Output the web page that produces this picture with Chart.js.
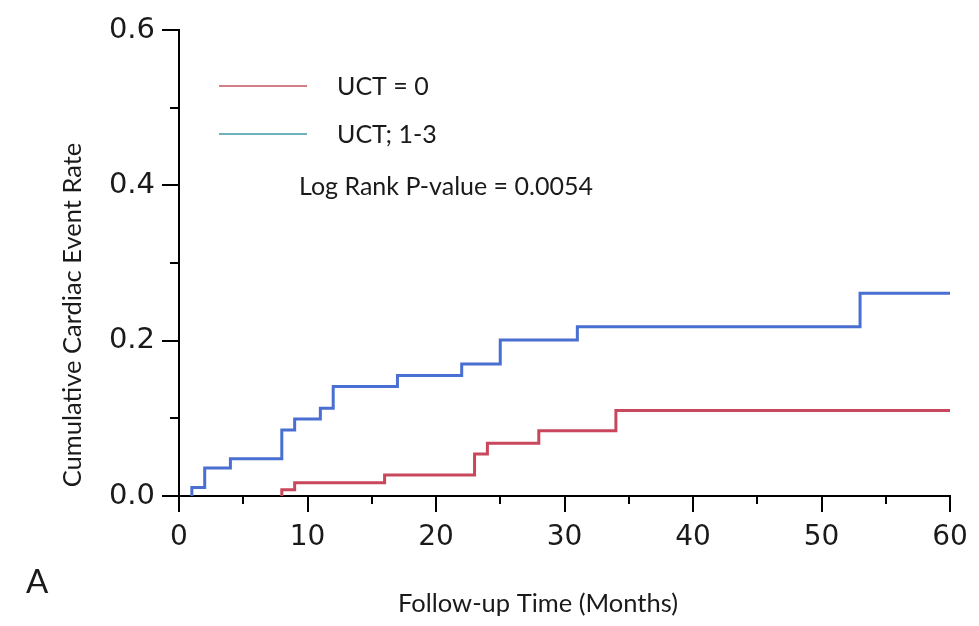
<!DOCTYPE html>
<html>
<head>
<meta charset="utf-8">
<script src="https://cdn.jsdelivr.net/npm/chart.js@4.4.1/dist/chart.umd.min.js"></script>
<style>
  html, body { margin: 0; padding: 0; background: #fff; }
  #wrap { width: 979px; height: 626px; }
</style>
</head>
<body>
<div id="wrap"><canvas id="kmChart" width="979" height="626"></canvas></div>
<script>
// Kaplan-Meier style cumulative event curves
const uct0Times = [8, 8, 9, 16, 23, 24, 28, 34, 60];
const uct0Rates = [0, 0.008, 0.017, 0.027, 0.054, 0.068, 0.084, 0.110, 0.110];
const uct13Times = [1, 1, 2, 4, 8, 9, 11, 12, 17, 22, 25, 31, 53, 60];
const uct13Rates = [0, 0.011, 0.036, 0.048, 0.085, 0.099, 0.113, 0.141, 0.155, 0.170, 0.201, 0.218, 0.261, 0.261];

const xMajorTicks = [0, 10, 20, 30, 40, 50, 60];
const xMinorTicks = [5, 15, 25, 35, 45, 55];
const yMajorTicks = [0, 0.2, 0.4, 0.6];
const yMinorTicks = [0.1, 0.3, 0.5];

const seriesLabels = ['UCT = 0', 'UCT; 1-3'];
const pValueText = 'Log Rank P-value = 0.0054';
const xTitle = 'Follow-up Time (Months)';
const yTitle = 'Cumulative Cardiac Event Rate';
const panelLabel = 'A';

const RED = '#c9475c';
const BLUE = '#4a6fd2';
const LEGEND_RED = '#c45462';
const LEGEND_TEAL = '#3f98a4';
const TEXT = '#1a1a1a';
const LABEL_FONT = 'Lato, "Open Sans", sans-serif';

function toPoints(times, rates) {
    return times.map((t, i) => ({ x: t, y: rates[i] }));
}

// no automatic padding for overflowing tick labels, the layout is fixed
function noLabelPadding(s) {
    s.paddingTop = 0;
    s.paddingBottom = 0;
    s.paddingLeft = 0;
    s.paddingRight = 0;
}

// tick marks: major long, minor short
const tickMarks = {
    id: 'tickMarks',
    afterDraw(chart) {
        const ctx = chart.ctx;
        const xs = chart.scales.x;
        const ys = chart.scales.y;
        const area = chart.chartArea;
        ctx.save();
        ctx.strokeStyle = '#000';
        ctx.lineWidth = 2;
        ctx.beginPath();
        yMajorTicks.forEach(v => {
            const py = Math.round(ys.getPixelForValue(v));
            ctx.moveTo(area.left - 17, py);
            ctx.lineTo(area.left, py);
        });
        yMinorTicks.forEach(v => {
            const py = Math.round(ys.getPixelForValue(v));
            ctx.moveTo(area.left - 9, py);
            ctx.lineTo(area.left, py);
        });
        xMajorTicks.forEach(v => {
            const px = Math.round(xs.getPixelForValue(v));
            ctx.moveTo(px, area.bottom);
            ctx.lineTo(px, area.bottom + 16);
        });
        xMinorTicks.forEach(v => {
            const px = Math.round(xs.getPixelForValue(v));
            ctx.moveTo(px, area.bottom);
            ctx.lineTo(px, area.bottom + 8);
        });
        ctx.stroke();
        ctx.restore();
    }
};

// legend, p-value and titles
const annotations = {
    id: 'annotations',
    afterDraw(chart) {
        const ctx = chart.ctx;
        ctx.save();
        ctx.fillStyle = TEXT;
        ctx.textBaseline = 'alphabetic';

        ctx.lineWidth = 1.5;
        ctx.strokeStyle = LEGEND_RED;
        ctx.beginPath(); ctx.moveTo(219, 86); ctx.lineTo(307, 86); ctx.stroke();
        ctx.strokeStyle = LEGEND_TEAL;
        ctx.beginPath(); ctx.moveTo(219, 134); ctx.lineTo(307, 134); ctx.stroke();

        ctx.font = '25px ' + LABEL_FONT;
        ctx.textAlign = 'left';
        ctx.fillText(seriesLabels[0], 337, 95);
        ctx.fillText(seriesLabels[1], 337, 143);
        ctx.fillText(pValueText, 299, 195);

        ctx.font = '25.5px ' + LABEL_FONT;
        ctx.textAlign = 'center';
        ctx.fillText(xTitle, 538, 612);

        ctx.save();
        ctx.translate(81, 315);
        ctx.rotate(-Math.PI / 2);
        ctx.font = '25.5px ' + LABEL_FONT;
        ctx.fillText(yTitle, 0, 0);
        ctx.restore();

        ctx.textAlign = 'left';
        ctx.font = '33px ' + LABEL_FONT;
        ctx.fillText(panelLabel, 26, 593);
        ctx.restore();
    }
};

new Chart(document.getElementById('kmChart'), {
    type: 'line',
    data: {
        datasets: [
            {
                label: seriesLabels[0],
                data: toPoints(uct0Times, uct0Rates),
                borderColor: RED,
                borderWidth: 3,
                pointRadius: 0,
                stepped: 'before',
                fill: false
            },
            {
                label: seriesLabels[1],
                data: toPoints(uct13Times, uct13Rates),
                borderColor: BLUE,
                borderWidth: 3,
                pointRadius: 0,
                stepped: 'before',
                fill: false
            }
        ]
    },
    options: {
        responsive: false,
        animation: false,
        devicePixelRatio: 1,
        layout: { padding: { left: 0, right: 29, top: 30, bottom: 0 } },
        plugins: {
            legend: { display: false },
            tooltip: { enabled: false }
        },
        scales: {
            x: {
                type: 'linear',
                min: 0,
                max: 60,
                afterBuildTicks: s => { s.ticks = xMajorTicks.map(v => ({ value: v })); },
                afterFit: s => { s.height = 130; noLabelPadding(s); },
                grid: { drawOnChartArea: false, drawTicks: false },
                border: { display: true, color: '#000', width: 2 },
                ticks: {
                    font: { family: '"DejaVu Sans"', size: 28 },
                    color: TEXT,
                    padding: 25,
                    maxRotation: 0
                }
            },
            y: {
                type: 'linear',
                min: 0,
                max: 0.6,
                afterBuildTicks: s => { s.ticks = yMajorTicks.map(v => ({ value: v })); },
                afterFit: s => { s.width = 179; noLabelPadding(s); },
                grid: { drawOnChartArea: false, drawTicks: false },
                border: { display: true, color: '#000', width: 2 },
                ticks: {
                    font: { family: '"DejaVu Sans"', size: 29 },
                    color: TEXT,
                    padding: 24,
                    callback: v => v.toFixed(1)
                }
            }
        }
    },
    plugins: [tickMarks, annotations]
});
</script>
</body>
</html>
